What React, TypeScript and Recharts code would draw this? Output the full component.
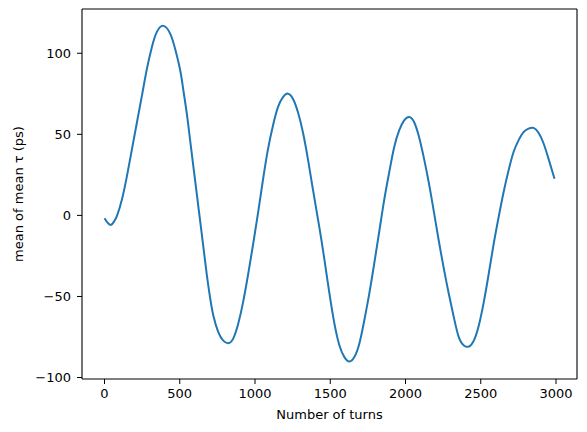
import { Label, Line, LineChart, ReferenceLine, XAxis, YAxis } from "recharts";

const TURNS = [
  0, 20, 44, 65, 84, 117, 150, 183, 216, 249, 282, 315, 348, 392, 437, 470, 503, 524, 547, 569,
  591, 613, 635, 657, 679, 701, 723, 756, 789, 822, 855, 888, 921, 955, 988, 1021, 1054, 1087,
  1120, 1153, 1186, 1219, 1252, 1285, 1318, 1351, 1384, 1429, 1462, 1495, 1528, 1561, 1594, 1627,
  1660, 1693, 1726, 1759, 1792, 1825, 1858, 1892, 1925, 1958, 1991, 2024, 2057, 2090, 2123, 2156,
  2189, 2220, 2255, 2288, 2321, 2354, 2388, 2421, 2454, 2487, 2520, 2553, 2586, 2619, 2652, 2685,
  2718, 2751, 2784, 2817, 2851, 2884, 2917, 2950, 2990,
];

const MEAN_TAU = [
  -1.8, -4.5, -5.8, -3.5, 0, 10.3, 24.7, 41.2, 57.6, 74, 90.5, 103.9, 113.2, 116.9, 112, 102.5,
  89.5, 77.2, 62.8, 46.3, 29.8, 13.4, -3.1, -19.6, -36, -50.4, -61.7, -72, -77.2, -78.8, -76,
  -67, -53.5, -36, -17.5, 2, 22.6, 41.2, 55.6, 66.9, 73, 75.1, 72, 63.8, 51.4, 35, 16.5, -8.2,
  -27.8, -48.4, -66.9, -80.2, -87.4, -90.1, -87.4, -79.2, -64.8, -48.4, -29.8, -10.3, 9.3, 26.7,
  42.2, 52.5, 58.6, 60.7, 57.6, 48.3, 35, 19.6, 2, -15, -33, -48.5, -62.8, -75.1, -80.2,
  -80.9, -77.2, -67.9, -53.5, -36, -17.5, -1, 14.4, 27.8, 39.1, 46.3, 51.4, 53.5, 54, 51,
  44.5, 35, 22.6,
];

const X_TICKS = [0, 500, 1000, 1500, 2000, 2500, 3000];
const Y_TICKS = [-100, -50, 0, 50, 100];
const X_DOMAIN: [number, number] = [-149.5, 3139.5];
const Y_DOMAIN: [number, number] = [-100.9, 127.3];

const FONT = "'DejaVu Sans', sans-serif";
const TICK = { fontSize: 13, fill: "#000", fontFamily: FONT };

const data = TURNS.map((turn, i) => ({ turn, tau: MEAN_TAU[i] }));

export default function App() {
  return (
    <div style={{ position: "absolute", left: 0, top: 0, background: "#fff" }}>
      <LineChart width={587} height={432} data={data} margin={{ top: 9, right: 10, bottom: 23, left: 0 }}>
        <XAxis
          dataKey="turn"
          type="number"
          domain={X_DOMAIN}
          ticks={X_TICKS}
          allowDataOverflow
          height={30}
          tick={TICK}
          tickSize={5}
          tickMargin={5}
          stroke="#000"
          tickLine={{ stroke: "#000" }}
          axisLine={{ stroke: "#000", strokeWidth: 1.1 }}
        >
          <Label
            content={() => (
              <text x={329.5} y={414} textAnchor="middle" dominantBaseline="central" fontSize={13} fontFamily={FONT} fill="#000">
                Number of turns
              </text>
            )}
          />
        </XAxis>
        <YAxis
          type="number"
          domain={Y_DOMAIN}
          ticks={Y_TICKS}
          allowDataOverflow
          width={82}
          tick={TICK}
          tickSize={5}
          tickMargin={6}
          stroke="#000"
          tickLine={{ stroke: "#000" }}
          axisLine={{ stroke: "#000", strokeWidth: 1.1 }}
          tickFormatter={(v: number) => (v < 0 ? `\u2212${Math.abs(v)}` : `${v}`)}
        >
          <Label
            content={() => (
              <text
                x={18}
                y={194}
                transform="rotate(-90 18 194)"
                textAnchor="middle"
                dominantBaseline="central"
                fontSize={13}
                fontFamily={FONT}
                fill="#000"
              >
                mean of mean τ (ps)
              </text>
            )}
          />
        </YAxis>
        <ReferenceLine y={Y_DOMAIN[1]} stroke="#000" strokeWidth={1.1} />
        <ReferenceLine x={X_DOMAIN[1]} stroke="#000" strokeWidth={1.1} />
        <Line
          type="natural"
          dataKey="tau"
          stroke="#1f77b4"
          strokeWidth={2}
          dot={false}
          isAnimationActive={false}
        />
      </LineChart>
    </div>
  );
}
